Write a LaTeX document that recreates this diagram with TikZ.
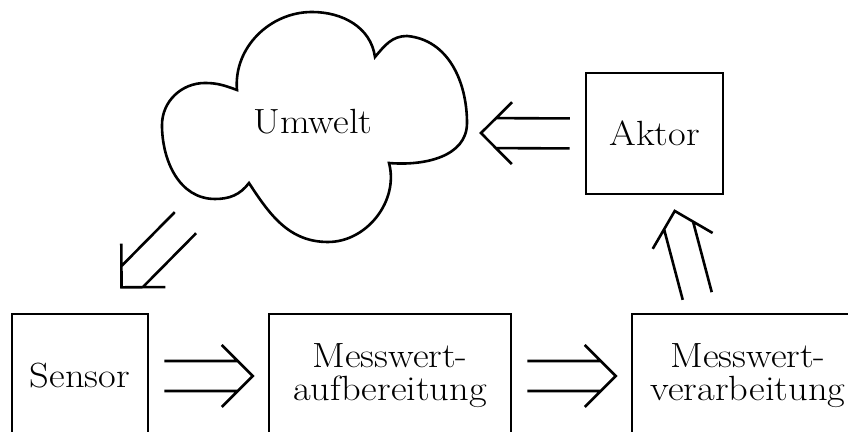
\documentclass[tikz,border=0pt]{standalone}
\usepackage{fontspec}
\setmainfont{Latin Modern Roman}[FakeStretch=1.1]
\usetikzlibrary{calc}

\tikzset{
  txt/.style={font=\fontsize{17.5pt}{16.5pt}\selectfont},
  block/.style={draw, txt, inner sep=0pt, align=center},
  dbl gap/.store in=\dblgap,
  dbl gap=7.5pt,
  % hollow double arrow: two parallel shafts and a right-angled chevron head
  dbl/.style={to path={
    ($(\tikztostart)!\dblgap!(\tikztotarget)$) coordinate (dbl-s)
    ($(\tikztotarget)!\dblgap!(\tikztostart)$) coordinate (dbl-t)
    ($(dbl-s)!7.5pt!90:(dbl-t)$) -- ($(dbl-t)!10.6pt!-45:(dbl-s)$)
    ($(dbl-s)!7.5pt!-90:(dbl-t)$) -- ($(dbl-t)!10.6pt!45:(dbl-s)$)
    ($(dbl-t)!21.9pt!45:(dbl-s)$) -- (dbl-t) -- ($(dbl-t)!21.9pt!-45:(dbl-s)$)
  }}
}

\begin{document}
\begin{tikzpicture}[x=0.5pt, y=0.5pt, line width=1.3pt]
\clip (0,0) rectangle (848,432);

% processing chain
\node[block, minimum width=68pt,  minimum height=62pt]   (sensor) at (80,56)  {Sensor};
\node[block, minimum width=121pt, minimum height=62pt]   (mauf)   at (390,56) {Messwert-\\aufbereitung};
\node[block, minimum width=116pt, minimum height=62pt]   (mver)   at (748,56) {Messwert-\\verarbeitung};
\node[block, minimum width=68.5pt, minimum height=60.5pt] (aktor) at (654.5,298.5) {Aktor};

% environment cloud
\node[txt, inner sep=0pt] (umwelt) at (313,310) {Umwelt};
\draw (237,342) to[out=95,in=180] (312,420)
      to[out=0,in=98] (375,375)
      to[out=50,in=180] (407,396)
      to[out=-5,in=90] (467,309)
      to[out=-90,in=-5] (389,269)
      to[out=-75,in=0] (328,190)
      to[out=180,in=-57] (249,249)
      to[out=-127,in=0] (215,233)
      to[out=180,in=-90] (162,307)
      to[out=90,in=180] (205,349)
      to[out=0,in=160] cycle;

% arrow end points
\coordinate (cloud-e)   at (466,299);
\coordinate (cloud-sw)  at (196,220);
\coordinate (sensor-in) at (111,134);
\coordinate (ver-top)   at (702,118);
\coordinate (akt-bot)   at (670,239);

% signal flow
\draw (sensor.east) to[dbl] (mauf.west);
\draw (mauf.east) to[dbl] (mver.west);
\draw (ver-top) to[dbl gap=9.3pt, dbl] (akt-bot);
\draw (aktor.west) to[dbl] (cloud-e);
\draw (cloud-sw) to[dbl] (sensor-in);
\end{tikzpicture}
\end{document}
